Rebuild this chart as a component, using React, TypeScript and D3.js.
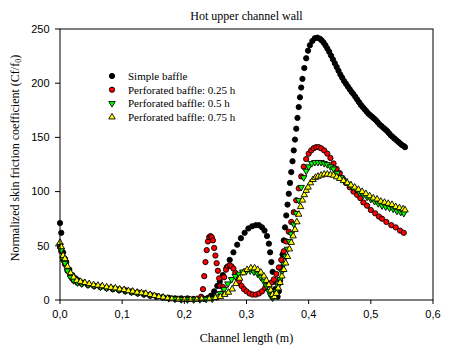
import * as d3 from 'd3'

// Normalized skin friction coefficient along the hot upper channel wall, [x (m), Cf/f0]
const simpleBaffle: [number, number][] = [
  [0.0, 71], [0.002, 62], [0.005, 44], [0.008, 38], [0.01, 35], [0.015, 28], [0.02, 23],
  [0.025, 20], [0.03, 18], [0.037, 16], [0.045, 14], [0.055, 13], [0.065, 12], [0.075, 11],
  [0.085, 10], [0.095, 9], [0.105, 8], [0.115, 7], [0.125, 6], [0.135, 5], [0.145, 4],
  [0.155, 3], [0.165, 2.5], [0.175, 2], [0.185, 1.5], [0.195, 1.5], [0.205, 1.5], [0.215, 1],
  [0.225, 1], [0.232, 1], [0.238, 2], [0.243, 4], [0.248, 8], [0.253, 13], [0.257, 17],
  [0.262, 23], [0.268, 30], [0.273, 37], [0.279, 44], [0.285, 51], [0.291, 57], [0.297, 62],
  [0.303, 66], [0.309, 68], [0.315, 69], [0.32, 69], [0.325, 67], [0.329, 64], [0.333, 59],
  [0.336, 52], [0.338, 44], [0.34, 35], [0.342, 26], [0.344, 17], [0.346, 10], [0.348, 5],
  [0.35, 3], [0.352, 8], [0.354, 18], [0.356, 30], [0.358, 42], [0.36, 55], [0.362, 67],
  [0.364, 78], [0.366, 88], [0.368, 98], [0.37, 108], [0.372, 118], [0.374, 128], [0.376, 138],
  [0.378, 148], [0.38, 158], [0.382, 168], [0.384, 178], [0.386, 187], [0.388, 196], [0.39, 204],
  [0.393, 214], [0.396, 223], [0.399, 230], [0.402, 235], [0.406, 239], [0.41, 241.5], [0.414, 242],
  [0.418, 241], [0.421, 239.5], [0.424, 237.5], [0.427, 235], [0.43, 232], [0.433, 229],
  [0.436, 225.5], [0.439, 222], [0.442, 218.5], [0.445, 215], [0.448, 211.5], [0.451, 208],
  [0.454, 205], [0.457, 202], [0.46, 199.5], [0.463, 197], [0.466, 194.5], [0.469, 192],
  [0.472, 190], [0.475, 187.5], [0.478, 185], [0.481, 182.5], [0.484, 180], [0.487, 178],
  [0.49, 176], [0.493, 174], [0.496, 172], [0.499, 170.5], [0.502, 169], [0.505, 167.5],
  [0.508, 166], [0.511, 164], [0.514, 162], [0.517, 160.5], [0.52, 159], [0.523, 157.5],
  [0.526, 156], [0.529, 154], [0.532, 152], [0.535, 150.5], [0.538, 149], [0.541, 147.5],
  [0.544, 146], [0.547, 144.5], [0.55, 143], [0.553, 142], [0.555, 141],
]

const perforated025: [number, number][] = [
  [0.0, 49], [0.002, 45], [0.005, 37], [0.008, 33], [0.012, 27], [0.017, 22], [0.022, 18],
  [0.028, 16], [0.035, 15], [0.045, 14], [0.055, 13], [0.065, 12], [0.075, 11], [0.085, 10.5],
  [0.095, 10], [0.105, 9], [0.115, 8], [0.125, 7], [0.135, 6], [0.145, 5], [0.155, 3.5],
  [0.165, 2.5], [0.175, 1.5], [0.185, 1], [0.195, 0.5], [0.205, 0.5], [0.215, 0.5], [0.222, 1],
  [0.227, 3], [0.23, 10], [0.232, 22], [0.234, 35], [0.236, 46], [0.238, 54], [0.24, 58],
  [0.242, 59], [0.244, 58], [0.246, 55], [0.248, 48], [0.25, 41], [0.252, 34], [0.254, 27],
  [0.256, 20], [0.258, 13], [0.26, 6], [0.262, 12], [0.264, 21], [0.267, 28], [0.27, 31],
  [0.273, 32], [0.276, 31], [0.279, 29], [0.282, 25], [0.285, 21], [0.288, 17], [0.292, 13],
  [0.296, 10], [0.3, 8], [0.305, 6], [0.31, 5], [0.315, 5], [0.32, 6], [0.325, 8], [0.33, 11],
  [0.335, 14], [0.34, 16], [0.344, 19], [0.348, 24], [0.352, 30], [0.356, 37], [0.36, 45],
  [0.364, 54], [0.368, 63], [0.372, 72], [0.376, 81], [0.38, 92], [0.384, 103], [0.388, 114],
  [0.392, 123], [0.396, 130], [0.4, 135], [0.404, 138], [0.408, 140], [0.412, 141], [0.416, 141],
  [0.42, 140], [0.425, 138], [0.43, 135], [0.435, 131], [0.44, 126], [0.445, 121], [0.45, 117],
  [0.455, 112], [0.46, 108], [0.466, 104], [0.472, 100], [0.478, 97], [0.483, 94], [0.488, 90],
  [0.494, 87], [0.5, 83], [0.507, 80], [0.513, 77], [0.518, 75], [0.525, 72], [0.533, 69],
  [0.54, 67], [0.547, 64], [0.553, 62],
]

const perforated05: [number, number][] = [
  [0.0, 50], [0.002, 46], [0.005, 38], [0.008, 34], [0.012, 27], [0.017, 21], [0.022, 18],
  [0.028, 16], [0.035, 15], [0.045, 14], [0.055, 13], [0.065, 12], [0.075, 11], [0.085, 10.5],
  [0.095, 9.5], [0.105, 8.5], [0.115, 7.5], [0.125, 6.5], [0.135, 5.5], [0.145, 4.5], [0.155, 3.5],
  [0.165, 2.5], [0.175, 1.5], [0.185, 1], [0.195, 0.5], [0.205, 0.3], [0.215, 0.3], [0.225, 0.5],
  [0.235, 0.8], [0.245, 1], [0.252, 3], [0.258, 6], [0.264, 10], [0.27, 15], [0.276, 19],
  [0.282, 22], [0.288, 24], [0.294, 26], [0.3, 27], [0.306, 27], [0.312, 26], [0.318, 24],
  [0.323, 21], [0.328, 17], [0.332, 13], [0.336, 8], [0.339, 4], [0.342, 2], [0.345, 4],
  [0.348, 8], [0.351, 13], [0.354, 19], [0.357, 26], [0.36, 33], [0.363, 40], [0.366, 47],
  [0.369, 54], [0.372, 61], [0.376, 70], [0.38, 80], [0.384, 92], [0.388, 104], [0.392, 113],
  [0.396, 119], [0.4, 123], [0.405, 126], [0.41, 127], [0.415, 127], [0.42, 127], [0.425, 126],
  [0.43, 125], [0.435, 123], [0.44, 121], [0.446, 117], [0.452, 113], [0.458, 110], [0.464, 107],
  [0.47, 104], [0.476, 102], [0.482, 99], [0.488, 97], [0.494, 95], [0.5, 93], [0.506, 91],
  [0.512, 89], [0.518, 87], [0.524, 86], [0.53, 85], [0.536, 84], [0.542, 82], [0.548, 81],
  [0.553, 80],
]

const perforated075: [number, number][] = [
  [0.0, 53], [0.002, 49], [0.005, 41], [0.008, 38], [0.012, 31], [0.017, 25], [0.022, 21],
  [0.027, 18], [0.033, 17], [0.04, 16], [0.047, 15], [0.054, 14], [0.061, 13.5], [0.068, 13],
  [0.075, 12], [0.082, 11.5], [0.089, 11], [0.096, 10], [0.103, 9.5], [0.11, 8.5], [0.117, 8],
  [0.124, 7], [0.131, 6.5], [0.138, 6], [0.145, 5], [0.152, 4], [0.159, 3], [0.166, 2.5],
  [0.173, 1.5], [0.18, 1], [0.19, 0.5], [0.2, 0.3], [0.21, 0.3], [0.22, 0.5], [0.228, 1],
  [0.24, 1], [0.25, 2], [0.258, 3], [0.265, 5], [0.271, 7], [0.277, 10], [0.283, 15],
  [0.289, 20], [0.295, 25], [0.301, 28], [0.307, 29.5], [0.313, 29.5], [0.318, 28], [0.323, 25.5],
  [0.328, 22], [0.332, 18], [0.336, 14], [0.339, 9], [0.342, 5], [0.345, 3], [0.348, 6],
  [0.351, 11], [0.354, 16], [0.357, 22], [0.36, 28], [0.363, 34], [0.366, 40], [0.369, 47],
  [0.372, 53], [0.375, 59], [0.378, 65], [0.381, 72], [0.384, 79], [0.387, 86], [0.39, 92],
  [0.393, 97], [0.396, 101], [0.399, 104], [0.403, 108], [0.407, 111], [0.411, 113], [0.415, 114],
  [0.42, 115], [0.425, 116], [0.43, 116], [0.435, 115.5], [0.44, 115], [0.445, 113.5], [0.45, 112],
  [0.456, 110], [0.462, 108], [0.468, 106], [0.474, 104], [0.48, 102], [0.486, 100], [0.492, 98],
  [0.498, 96], [0.504, 94], [0.51, 93], [0.516, 91], [0.522, 90], [0.528, 89], [0.534, 88],
  [0.54, 86], [0.546, 85], [0.552, 84], [0.555, 83],
]

const seriesLabels = [
  'Simple baffle',
  'Perforated baffle: 0.25 h',
  'Perforated baffle: 0.5 h',
  'Perforated baffle: 0.75 h',
]
const xTicks = [0, 0.1, 0.2, 0.3, 0.4, 0.5, 0.6]
const yTicks = [0, 50, 100, 150, 200, 250]

const width = 454
const height = 357
const margin = { top: 29, right: 21, bottom: 57, left: 60 }

const serif = "'Liberation Serif', 'Times New Roman', serif"
const sans = "'Liberation Sans', Arial, sans-serif"

const circle = d3.symbol(d3.symbolCircle, 22)()
const triangle = d3.symbol(d3.symbolTriangle, 18)()

const markers = [
  { path: circle, fill: '#000000', rotate: 0 },
  { path: circle, fill: '#ff0000', rotate: 0 },
  { path: triangle, fill: '#00ff00', rotate: 180 },
  { path: triangle, fill: '#ffff00', rotate: 0 },
]

export default function App() {
  const x = d3.scaleLinear().domain([0, 0.6]).range([margin.left, width - margin.right])
  const y = d3.scaleLinear().domain([0, 250]).range([height - margin.bottom, margin.top])
  const fmt = (v: number) => d3.format('.1f')(v).replace('.', ',')

  const series = [simpleBaffle, perforated025, perforated05, perforated075]
  const [x0, x1] = x.range()
  const [y0, y1] = y.range()

  return (
    <svg
      width={width}
      height={height}
      style={{ position: 'absolute', left: 0, top: 0, background: '#fff' }}
    >
      <text x={(x0 + x1) / 2} y={20} textAnchor="middle" fontFamily={serif} fontSize={12}>
        Hot upper channel wall
      </text>

      {/* data */}
      {series.map((data, s) => (
        <g key={s}>
          {data.map(([dx, dy], i) => (
            <path
              key={i}
              d={markers[s].path}
              transform={`translate(${x(dx)},${y(dy)}) rotate(${markers[s].rotate})`}
              fill={markers[s].fill}
              stroke="#000"
              strokeWidth={0.9}
            />
          ))}
        </g>
      ))}

      {/* frame */}
      <rect x={x0} y={y1} width={x1 - x0} height={y0 - y1} fill="none" stroke="#000" strokeWidth={1} />

      {/* x axis */}
      {xTicks.map(t => (
        <g key={t} transform={`translate(${x(t)},0)`}>
          <line y1={y0} y2={y0 + 4} stroke="#000" />
          <text y={y0 + 18} textAnchor="middle" fontFamily={sans} fontSize={11}>
            {fmt(t)}
          </text>
        </g>
      ))}
      <text x={(x0 + x1) / 2} y={342} textAnchor="middle" fontFamily={serif} fontSize={12}>
        Channel length (m)
      </text>

      {/* y axis */}
      {yTicks.map(t => (
        <g key={t} transform={`translate(0,${y(t)})`}>
          <line x1={x0 - 5} x2={x0} stroke="#000" />
          <text x={x0 - 10.5} dy="0.35em" textAnchor="end" fontFamily={sans} fontSize={11}>
            {t}
          </text>
        </g>
      ))}
      <text
        transform={`translate(19,158) rotate(-90)`}
        textAnchor="middle"
        fontFamily={serif}
        fontSize={12}
      >
        Normalized skin friction coefficient (Cf/f
        <tspan dy={2} fontSize={8}>0</tspan>
        <tspan dy={-2}>)</tspan>
      </text>

      {/* legend */}
      {seriesLabels.map((label, i) => (
        <g key={label} transform={`translate(112,${76 + i * 13.7})`}>
          <path
            d={markers[i].path}
            transform={`rotate(${markers[i].rotate})`}
            fill={markers[i].fill}
            stroke="#000"
            strokeWidth={0.9}
          />
          <text x={16} dy="0.35em" fontFamily={serif} fontSize={11}>
            {label}
          </text>
        </g>
      ))}
    </svg>
  )
}
